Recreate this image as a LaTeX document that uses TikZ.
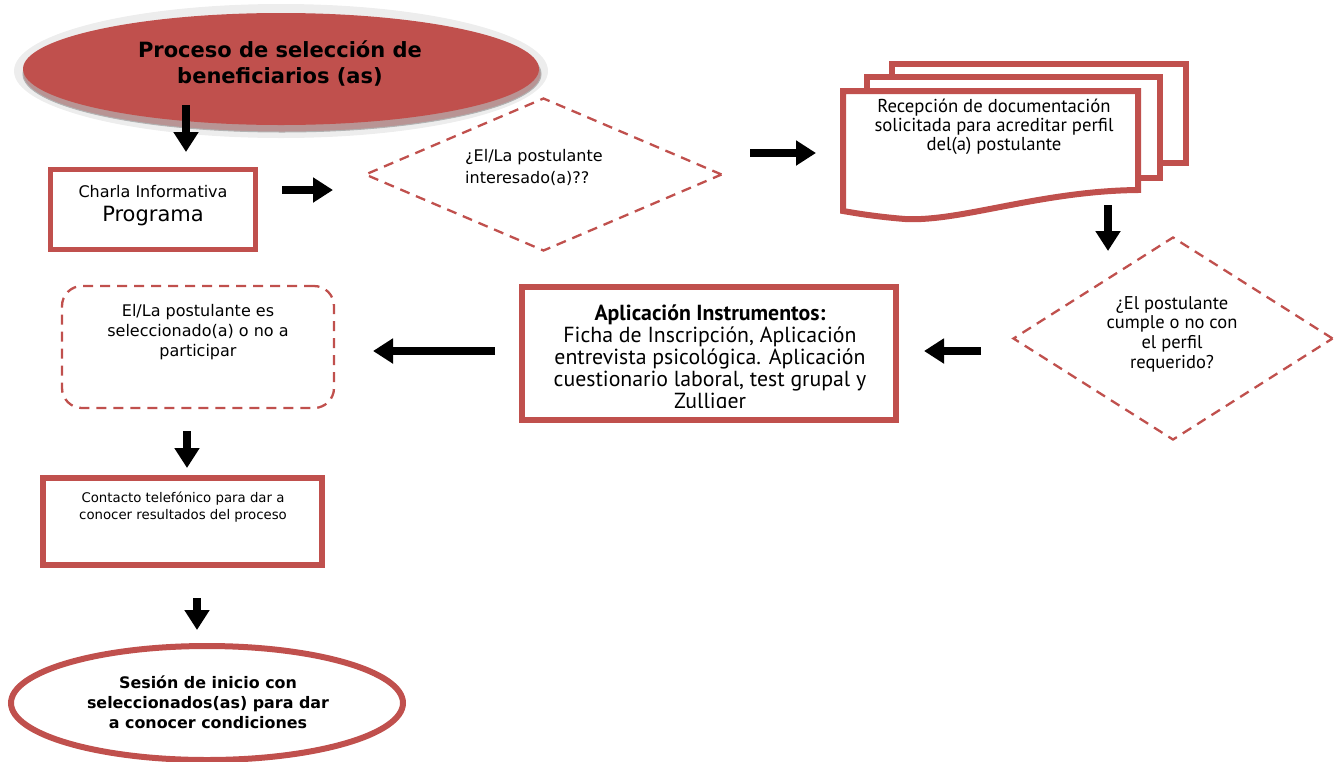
\documentclass[tikz,border=0pt]{standalone}
\usepackage{fontspec}
\setmainfont{DejaVu Sans}
\newfontfamily\nar{PT Sans}
\usetikzlibrary{shapes.geometric,arrows.meta}
\definecolor{rd}{HTML}{C0504D}
\definecolor{ringgray}{HTML}{EDEDED}
\definecolor{mauve}{HTML}{B89494}
\begin{document}
\begin{tikzpicture}[x=1pt,y=-1pt,
  blk/.style={line width=8pt,-{Triangle[length=20pt,width=24pt]}},
  box/.style={draw=rd, line width=6pt, fill=white, rectangle, inner sep=0pt},
  dsh/.style={draw=rd, line width=2.3pt, dash pattern=on 10pt off 7pt},
  txt/.style={align=center, inner sep=0pt},
]
\useasboundingbox (0,0) rectangle (1336,761);
\clip (0,0) rectangle (1336,761);

% ---- top ellipse ----
\node[ellipse, fill=ringgray, minimum width=534pt, minimum height=134pt, inner sep=0pt] (e0ring) at (281,71) {};
\node[ellipse, fill=mauve, draw=gray!60, line width=1pt, minimum width=518pt, minimum height=116pt, inner sep=0pt] (e0shadow) at (282,74) {};
\node[ellipse, fill=rd, minimum width=516pt, minimum height=112pt, inner sep=0pt] (e0) at (281,69) {};
\node[txt, font=\fontsize{21}{26}\selectfont\bfseries] (t0) at (280,63) {Proceso de selección de\\beneficiarios (as)};

% ---- Charla box ----
\node[box, line width=5pt, minimum width=205pt, minimum height=80pt] (charla) at (153,209.5) {};
\node[txt, font=\fontsize{21}{24}\selectfont] (tcharla) at (153,206) {{\fontsize{16}{20}\selectfont Charla Informativa}\\Programa};

% ---- diamond 1 ----
\node[diamond, dsh, minimum width=357pt, minimum height=153pt, inner sep=0pt] (d1) at (543.5,174.5) {};
\node[align=left, inner sep=0pt, font=\fontsize{16}{22}\selectfont, anchor=west] (td1) at (465,167) {¿El/La postulante\\interesado(a)??};

% ---- multi document ----
\draw[draw=rd, line width=6pt, fill=white] (892,64) rectangle (1186,163);
\draw[draw=rd, line width=6pt, fill=white] (867,77) rectangle (1160,178);
\draw[draw=rd, line width=6pt, fill=white] (843,91) -- (1138,91) -- (1138,190)
  .. controls (1040,191) and (960,222) .. (905,219)
  .. controls (880,217) and (860,214) .. (843,211) -- cycle;
\node[txt, font=\nar\fontsize{18.7}{19}\selectfont] (trecep) at (994,127) {Recepción de documentación\\solicitada para acreditar perfil\\del(a) postulante};

% ---- diamond 2 ----
\node[diamond, dsh, minimum width=320pt, minimum height=203pt, inner sep=0pt] (d2) at (1173,338.5) {};
\node[txt, font=\nar\fontsize{18.5}{19.7}\selectfont] (td2) at (1172,334) {¿El postulante\\cumple o no con\\el perfil\\requerido?};

% ---- Aplicacion box ----
\node[box, minimum width=374pt, minimum height=133pt] (aplic) at (709,353.5) {};
\begin{scope}
\clip (525,290) rectangle (893,407);
\node[txt, font=\nar\fontsize{21.8}{22}\selectfont] (taplic) at (710,359) {\textbf{Aplicación Instrumentos:}\\Ficha de Inscripción, Aplicación\\entrevista psicológica. Aplicación\\cuestionario laboral, test grupal y\\Zulliger};
\end{scope}

% ---- rounded dashed box ----
\node[rectangle, rounded corners=20pt, dsh, minimum width=272pt, minimum height=122pt, inner sep=0pt] (sel) at (198,347) {};
\node[txt, font=\fontsize{16}{20}\selectfont] (tsel) at (198,332) {El/La postulante es\\seleccionado(a) o no a\\participar};

% ---- Contacto box ----
\node[box, minimum width=279pt, minimum height=87pt] (cont) at (182.5,521.5) {};
\node[txt, font=\fontsize{13.3}{17}\selectfont] (tcont) at (183,507) {Contacto telefónico para dar a\\conocer resultados del proceso};

% ---- bottom ellipse ----
\node[ellipse, draw=rd, line width=6pt, fill=white, minimum width=392pt, minimum height=114pt, inner sep=0pt] (fin) at (207,703) {};
\node[txt, font=\fontsize{15.9}{20}\selectfont\bfseries] (tfin) at (208,702) {Sesión de inicio con\\seleccionados(as) para dar\\a conocer condiciones};

% ---- arrows ----
\coordinate (a1s) at (186,105); \coordinate (a1e) at (186,152);
\coordinate (a2s) at (282,190); \coordinate (a2e) at (333,190);
\coordinate (a3s) at (750,153); \coordinate (a3e) at (816,153);
\coordinate (a4s) at (1108,205); \coordinate (a4e) at (1108,251);
\coordinate (a5s) at (981,351); \coordinate (a5e) at (924,351);
\coordinate (a6s) at (495,351); \coordinate (a6e) at (373,351);
\coordinate (a7s) at (187,431); \coordinate (a7e) at (187,468);
\coordinate (a8s) at (197,598); \coordinate (a8e) at (197,630);
\foreach \i in {1,...,8} {\draw[blk] (a\i s) -- (a\i e);}
\end{tikzpicture}
\end{document}
